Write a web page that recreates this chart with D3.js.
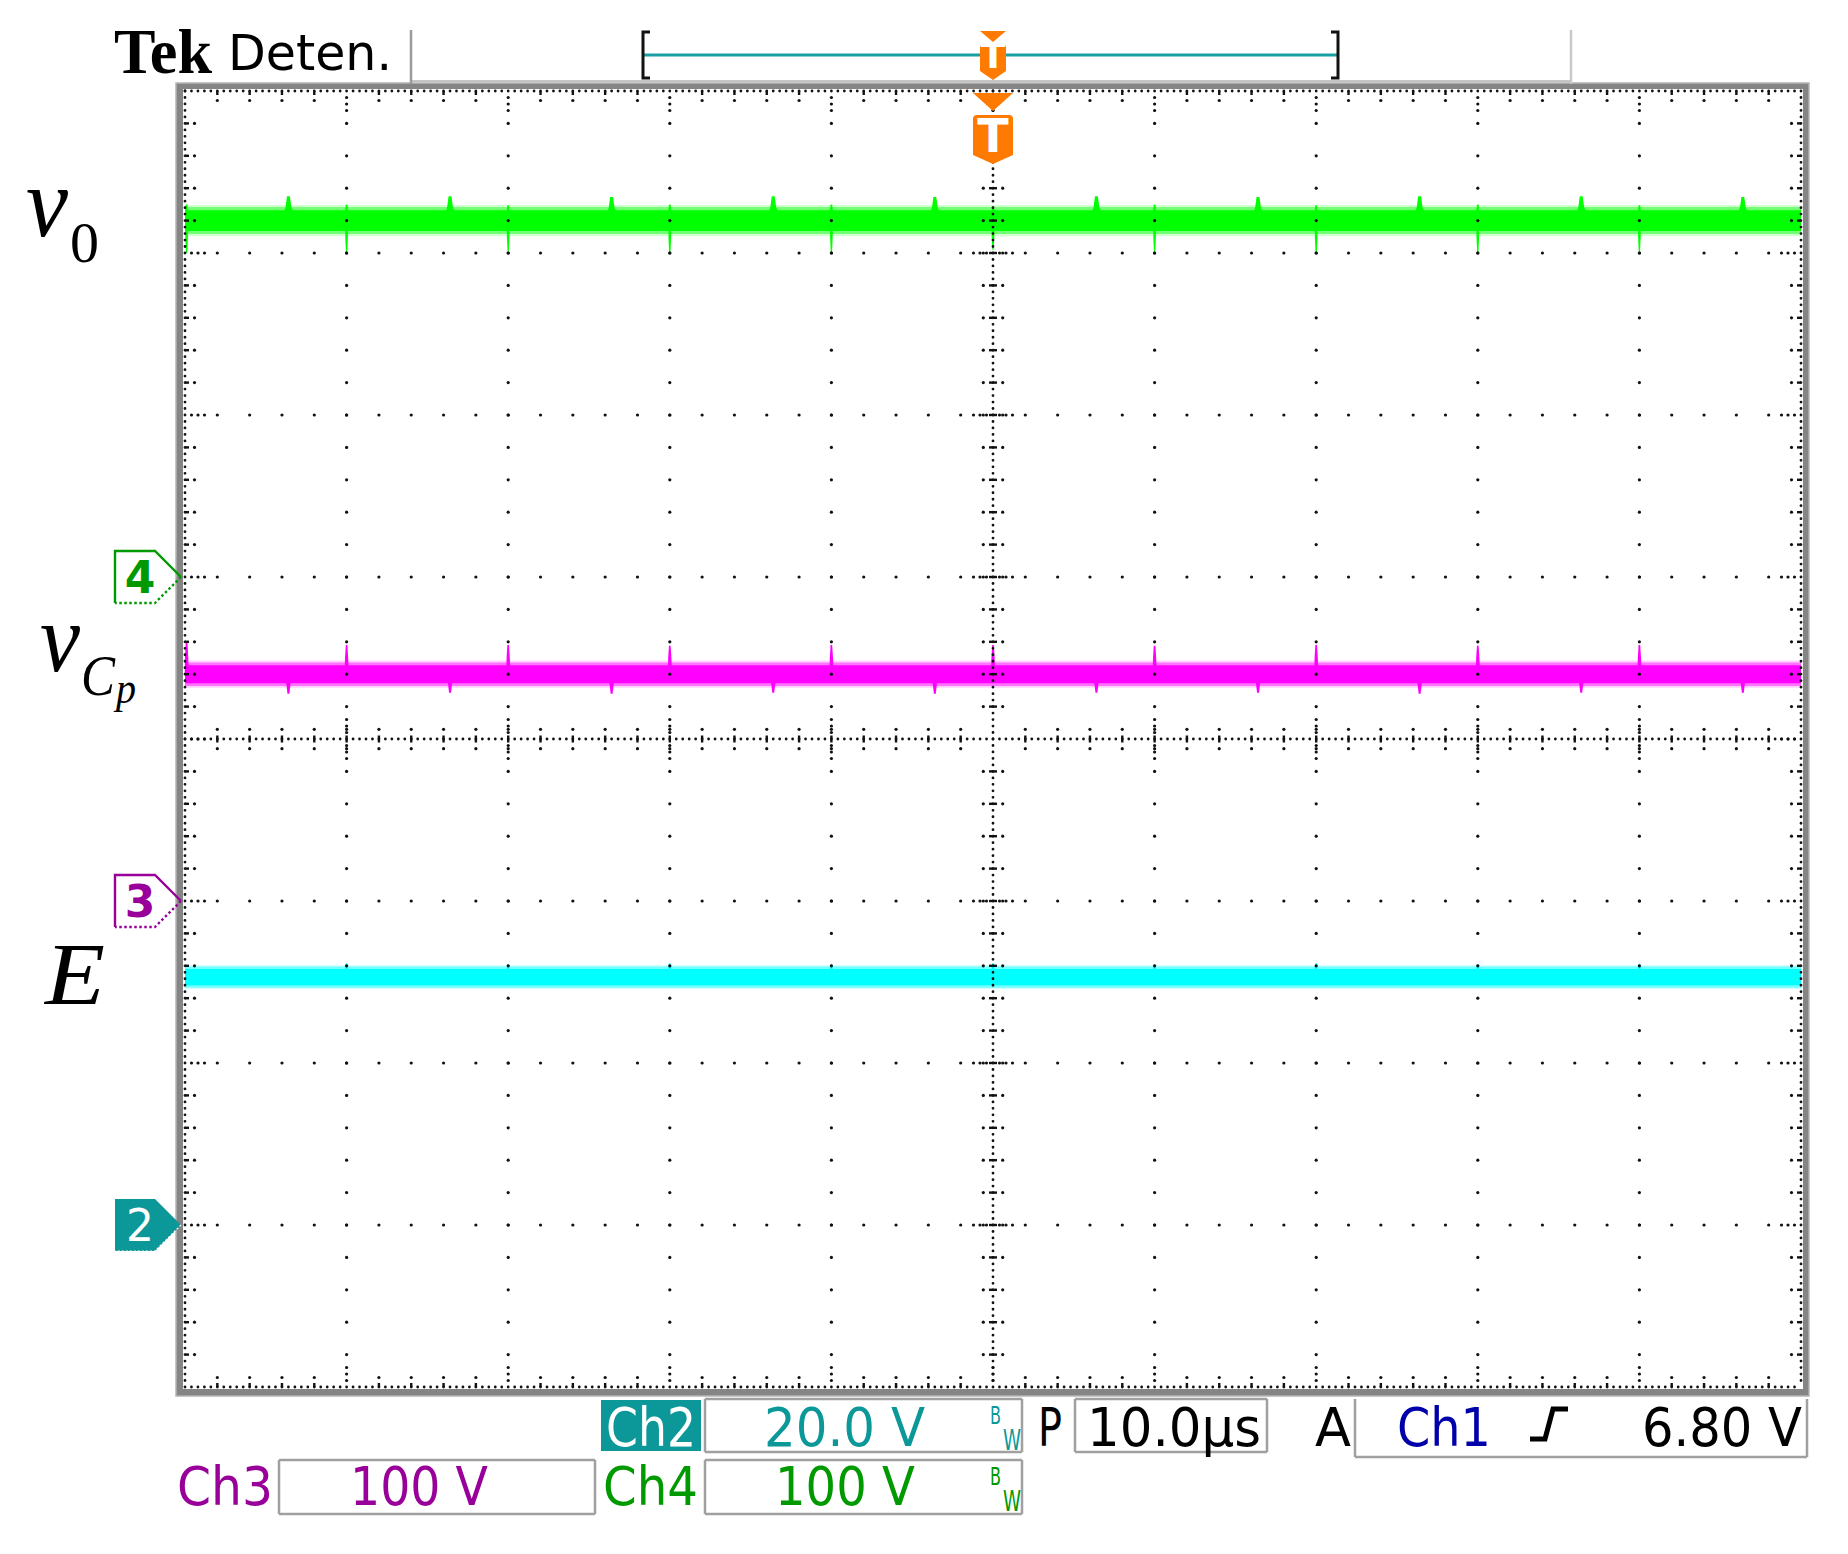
<!DOCTYPE html>
<html><head><meta charset="utf-8">
<script src="https://cdn.jsdelivr.net/npm/d3@7"></script>
<style>html,body{margin:0;padding:0;background:#fff;} svg{display:block;}</style>
</head><body>
<svg id="chart" width="1848" height="1554"></svg>
<script>
// ---------------- data ----------------
const timePerDivUs = 10;
const timeDomainUs = [-50, 50];           // 10 div x 10 µs, trigger at centre
const vertDivDomain = [-4, 4];            // 8 vertical divisions
const traceNames = ["E", "vCp", "v0"];
const traceChannels = ["2", "3", "4"];
const traceVoltsPerDiv = [20, 100, 100];
const traceOffsetDiv = [-3, -1, 1];       // ground marker positions (div from centre)
const traceLevelV = [30.6, 140, 220];     // mean levels
const traceNoiseV = [1.0, 5.6, 6.4];      // half width of the noise band
const traceColors = ["#00ffff", "#ff00ff", "#00ff00"];

// v0 (Ch4) spikes
const v0SpikeATimes = [-43.6, -33.6, -23.6, -13.6, -3.6, 6.4, 16.4, 26.4, 36.4, 46.4];
const v0SpikeAUpV   = [15, 15, 14.5, 15, 14.5, 15, 14.5, 15, 15, 14.5];
const v0SpikeBTimes = [-49.9, -40, -30, -20, -10, 0, 10, 20, 30, 40];
const v0SpikeBUpV   = [10, 10, 9.5, 10, 10, 9, 10, 9.5, 10, 9.5];
const v0SpikeBDownV = [20, 20, 19, 20, 19.5, 18, 19, 20, 19.5, 19];
// vCp (Ch3) spikes
const vCpSpikeBTimes = [-49.9, -40, -30, -20, -10, 0, 10, 20, 30, 40];
const vCpSpikeBUpV   = [20, 18, 18, 17.5, 18, 18, 17.5, 18, 17.5, 18];
const vCpSpikeATimes = [-43.6, -33.6, -23.6, -13.6, -3.6, 6.4, 16.4, 26.4, 36.4, 46.4];
const vCpSpikeADownV = [12, 11.5, 12, 11.5, 12, 11.5, 11.5, 12, 11.5, 11.5];
// E (Ch2) small bumps
const eSpikeTimes = [-40, -30, -20, -10, 0, 10, 20, 30, 40];
const eSpikeUpV   = [1.7, 1.6, 1.7, 1.6, 1.7, 1.6, 1.7, 1.6, 1.6];

// status text
const ch2Scale = "20.0 V";
const ch3Scale = "100 V";
const ch4Scale = "100 V";
const timeScaleText = "10.0µs";
const trigSource = "Ch1";
const trigLevel = "6.80 V";

// ---------------- layout ----------------
const X0 = 185, X1 = 1801, Y0 = 91, Y1 = 1387;
const svg = d3.select('#chart');
const x = d3.scaleLinear().domain(timeDomainUs).range([X0, X1]);
const yd = d3.scaleLinear().domain(vertDivDomain).range([Y1, Y0]);

// ---------- traces ----------
const gTr = svg.append('g');
function traceScale(i) {
  const vpd = traceVoltsPerDiv[i], off = traceOffsetDiv[i];
  return d3.scaleLinear().domain([(-4 - off) * vpd, (4 - off) * vpd]).range([Y1, Y0]);
}
const lineGen = (y) => d3.line().x(d => x(d[0])).y(d => y(d[1]));
function spikePts(t, level, amp, hl, hr, tipw) {
  return [[t - hl, level], [t - tipw * 2, level + amp * 0.55], [t - tipw, level + amp],
          [t + tipw, level + amp], [t + tipw * 2, level + amp * 0.55], [t + hr, level]];
}
traceNames.forEach((name, i) => {
  const y = traceScale(i);
  const L = traceLevelV[i], N = traceNoiseV[i], col = traceColors[i];
  [[1.5, 0.18], [1.3, 0.45]].forEach(([k, op]) => {
    const area = d3.area().x(d => x(d)).y0(() => y(L - N * k)).y1(() => y(L + N * k));
    gTr.append('path').attr('d', area(timeDomainUs)).attr('fill', col).attr('opacity', op);
  });
  const core = d3.area().x(d => x(d)).y0(() => y(L - N)).y1(() => y(L + N));
  gTr.append('path').attr('d', core(timeDomainUs)).attr('fill', col);
  const lg = lineGen(y);
  const draw = (pts) => gTr.append('path').attr('d', lg(pts) + 'Z').attr('fill', col);
  if (name === 'v0') {
    v0SpikeATimes.forEach((t, k) => draw(spikePts(t, L, v0SpikeAUpV[k], 0.45, 0.55, 0.09)));
    v0SpikeBTimes.forEach((t, k) => {
      draw(spikePts(t, L, v0SpikeBUpV[k], 0.06, 0.9, 0.05));
      draw(spikePts(t, L, -v0SpikeBDownV[k], 0.09, 0.09, 0.04));
    });
  } else if (name === 'vCp') {
    vCpSpikeBTimes.forEach((t, k) => draw(spikePts(t, L, vCpSpikeBUpV[k], 0.12, 0.14, 0.05)));
    vCpSpikeATimes.forEach((t, k) => draw(spikePts(t, L, -vCpSpikeADownV[k], 0.25, 0.25, 0.06)));
  } else {
    eSpikeTimes.forEach((t, k) => draw(spikePts(t, L, eSpikeUpV[k], 0.1, 0.3, 0.05)));
  }
});

// ---------- frame ----------
svg.append('path')
  .attr('d', `M176,83H1809V1396H176Z M183,89V1389H1803V89Z`)
  .attr('fill', '#858585').attr('fill-rule', 'evenodd');
svg.append('rect').attr('x', 176).attr('y', 83).attr('width', 1633).attr('height', 1313)
  .attr('fill', 'none').attr('stroke', '#b5b5b5').attr('stroke-width', 1.5);
svg.append('line').attr('x1', 411).attr('x2', 1571).attr('y1', 81).attr('y2', 81)
  .attr('stroke', '#c4c4c4').attr('stroke-width', 2);

// ---------- graticule ----------
const gG = svg.append('g').attr('fill', '#111');
const minorX = d3.range(0, 51).map(i => -50 + i * 2);
const minorY = d3.range(0, 41).map(i => -4 + i * 0.2);
const majorX = d3.range(1, 10).map(i => -50 + i * 10).filter(v => v !== 0);
const majorY = d3.range(1, 8).map(i => -4 + i).filter(v => v !== 0);
const isMajorX = v => Math.abs(v / 10 - Math.round(v / 10)) < 1e-6;
const isMajorY = v => Math.abs(v - Math.round(v)) < 1e-6;
const dot = (cx, cy, r = 1.6) => gG.append('circle').attr('cx', cx).attr('cy', cy).attr('r', r);
const dash = (x1, y1, x2, y2) => gG.append('line').attr('x1', x1).attr('y1', y1).attr('x2', x2).attr('y2', y2)
  .attr('stroke', '#111').attr('stroke-width', 2.4);

majorX.forEach(c => minorY.forEach(v => { if (Math.abs(v) < 3.99 && Math.abs(v) > 0.01) dot(x(c), yd(v)); }));
majorY.forEach(r => minorX.forEach(t => { if (Math.abs(t) < 49.9 && Math.abs(t) > 0.01) dot(x(t), yd(r)); }));

const px = (X1 - X0) / 250, py = (Y1 - Y0) / 200;
const dotted = (x1, y1, x2, y2, p) => gG.append('line').attr('x1', x1).attr('y1', y1).attr('x2', x2).attr('y2', y2)
  .attr('stroke', '#111').attr('stroke-width', 2.8).attr('stroke-linecap', 'round')
  .attr('stroke-dasharray', `0 ${p}`);
dotted(X0, Y0, X1, Y0, px); dotted(X0, Y1, X1, Y1, px);
dotted(X0, Y0, X0, Y1, py); dotted(X1, Y0, X1, Y1, py);
dotted(X0, yd(0), X1, yd(0), px); dotted(x(0), Y0, x(0), Y1, py);

minorX.forEach(t => {
  if (Math.abs(t) > 49.9) return;
  const cx = x(t);
  if (isMajorX(t)) { [6.5, 13, 19.5].forEach(o => { dot(cx, Y0 + o); dot(cx, Y1 - o); }); }
  else { dash(cx, Y0, cx, Y0 + 4); dot(cx, Y0 + 9.5); dash(cx, Y1, cx, Y1 - 4); dot(cx, Y1 - 9.5); }
  if (Math.abs(t) > 0.01) {
    dash(cx, yd(0) - 3.5, cx, yd(0) + 3.5); dot(cx, yd(0) - 9.7); dot(cx, yd(0) + 9.7);
    if (isMajorX(t)) [6.5, 13, 19.5].forEach(o => { dot(cx, yd(0) - o); dot(cx, yd(0) + o); });
  }
});
minorY.forEach(v => {
  if (Math.abs(v) > 3.99) return;
  const cy = yd(v);
  if (isMajorY(v)) { [6.5, 13, 19.5].forEach(o => { dot(X0 + o, cy); dot(X1 - o, cy); }); }
  else { dash(X0, cy, X0 + 4, cy); dot(X0 + 9.5, cy); dash(X1, cy, X1 - 4, cy); dot(X1 - 9.5, cy); }
  if (Math.abs(v) > 0.01) {
    dash(x(0) - 4, cy, x(0) + 4, cy); dot(x(0) - 9.7, cy); dot(x(0) + 9.7, cy);
    if (isMajorY(v)) [6.5, 13, 19.5].forEach(o => { dot(x(0) - o, cy); dot(x(0) + o, cy); });
  }
});

// ---------- trigger markers ----------
const orange = '#ff7a00';
const tx = x(0);
function trigMarker(triTop, triBot, boxTop, boxBot, halfW, fs) {
  const g = svg.append('g');
  g.append('path').attr('d', `M${tx - halfW},${triTop}H${tx + halfW}L${tx},${triBot}Z`).attr('fill', orange);
  const r = 4;
  g.append('path').attr('d',
    `M${tx - halfW},${boxTop + r}Q${tx - halfW},${boxTop} ${tx - halfW + r},${boxTop}H${tx + halfW - r}Q${tx + halfW},${boxTop} ${tx + halfW},${boxTop + r}` +
    `V${boxBot - 9}L${tx},${boxBot}L${tx - halfW},${boxBot - 9}Z`).attr('fill', orange);
  g.append('text').attr('x', tx).attr('y', boxBot - 12).attr('text-anchor', 'middle')
    .attr('font-family', 'DejaVu Sans').attr('font-weight', 'bold').attr('font-size', fs)
    .attr('fill', '#fff').text('T');
}
svg.append('line').attr('x1', 643).attr('x2', 1338).attr('y1', 55).attr('y2', 55)
  .attr('stroke', '#1a9ea3').attr('stroke-width', 3);
svg.append('path').attr('d', 'M650,32H643V78H650').attr('fill', 'none').attr('stroke', '#111').attr('stroke-width', 3);
svg.append('path').attr('d', 'M1331,32H1338V78H1331').attr('fill', 'none').attr('stroke', '#111').attr('stroke-width', 3);
trigMarker(31, 42, 44, 80, 13, 36);
trigMarker(93, 111, 115, 164, 20, 46);

// header
svg.append('line').attr('x1', 411).attr('x2', 411).attr('y1', 30).attr('y2', 84).attr('stroke', '#9a9a9a').attr('stroke-width', 2.5);
svg.append('line').attr('x1', 1571).attr('x2', 1571).attr('y1', 30).attr('y2', 84).attr('stroke', '#c8c8c8').attr('stroke-width', 2.5);
svg.append('text').attr('x', 114).attr('y', 73).attr('font-family', 'Liberation Serif').attr('font-weight', 'bold')
  .attr('font-size', 64).attr('textLength', 98).attr('lengthAdjust', 'spacingAndGlyphs').attr('fill', '#000').text('Tek');
svg.append('text').attr('x', 228).attr('y', 70).attr('font-family', 'DejaVu Sans')
  .attr('font-size', 49).attr('textLength', 164).attr('lengthAdjust', 'spacingAndGlyphs').attr('fill', '#000').text('Deten.');

// ---------- channel ground markers ----------
const chColors = { "2": "#0c9898", "3": "#990099", "4": "#009900" };
traceChannels.forEach((ch, i) => {
  const cy = yd(traceOffsetDiv[i]);
  const col = chColors[ch];
  const g = svg.append('g');
  const filled = ch === "2";
  if (filled) {
    g.append('path').attr('d', `M115,${cy - 26}H155L181,${cy}L155,${cy + 26}H115Z`).attr('fill', col);
    g.append('path').attr('d', `M181,${cy}L155,${cy + 26}H115`).attr('fill', 'none').attr('stroke', '#fff')
      .attr('stroke-width', 1.2).attr('stroke-dasharray', '2 2');
  } else {
    g.append('path').attr('d', `M115,${cy + 26}V${cy - 26}H155L181,${cy}`).attr('fill', 'none')
      .attr('stroke', col).attr('stroke-width', 2.4);
    g.append('path').attr('d', `M181,${cy}L155,${cy + 26}H115`).attr('fill', 'none')
      .attr('stroke', col).attr('stroke-width', 2.4).attr('stroke-dasharray', '2.5 2.5');
  }
  g.append('text').attr('x', 140).attr('y', cy + 16).attr('text-anchor', 'middle')
    .attr('font-family', 'DejaVu Sans').attr('font-weight', filled ? 'normal' : 'bold').attr('font-size', 44)
    .attr('fill', filled ? '#fff' : col).text(ch);
});

// ---------- math labels ----------
const serif = 'Liberation Serif';
function mtext(xp, yp, size, italic, str, len) {
  const t = svg.append('text').attr('x', xp).attr('y', yp).attr('font-family', serif).attr('font-size', size)
    .attr('font-style', italic ? 'italic' : 'normal').attr('fill', '#000').text(str);
  if (len) t.attr('textLength', len).attr('lengthAdjust', 'spacingAndGlyphs');
}
mtext(26, 236, 100, true, 'v', 42);
mtext(70, 262, 58, false, '0');
mtext(40, 671, 98, true, 'v', 40);
mtext(81, 695, 56, true, 'C', 34);
mtext(116, 703, 44, true, 'p', 20);
mtext(45, 1004, 88, true, 'E', 60);

// ---------- status bar ----------
const sans = 'DejaVu Sans';
function stext(xp, yp, w, size, col, str, weight) {
  svg.append('text').attr('x', xp).attr('y', yp).attr('font-family', sans).attr('font-size', size)
    .attr('font-weight', weight || 'normal')
    .attr('textLength', w).attr('lengthAdjust', 'spacingAndGlyphs').attr('fill', col).text(str);
}
function box(x0, y0, x1, y1, sides) {
  const s = sides || 'tlbr';
  const p = [];
  if (s.includes('t')) p.push(`M${x0},${y0}H${x1}`);
  if (s.includes('l')) p.push(`M${x0},${y0}V${y1}`);
  if (s.includes('b')) p.push(`M${x0},${y1}H${x1}`);
  if (s.includes('r')) p.push(`M${x1},${y0}V${y1}`);
  svg.append('path').attr('d', p.join('')).attr('fill', 'none').attr('stroke', '#a0a0a0').attr('stroke-width', 2.5);
}
// row 1
svg.append('rect').attr('x', 601).attr('y', 1400).attr('width', 100).attr('height', 51).attr('fill', chColors["2"]);
stext(606, 1446, 90, 54, '#fff', 'Ch2');
box(705, 1399, 1022, 1452);
stext(764, 1446, 161, 54, chColors["2"], ch2Scale);
stext(990, 1424, 11, 24, chColors["2"], 'B');
stext(1003, 1450, 18, 28, chColors["2"], 'W');
stext(1038, 1446, 24, 54, '#000', 'P');
box(1075, 1399, 1267, 1452);
stext(1087, 1446, 174, 54, '#000', timeScaleText);
stext(1315, 1446, 36, 54, '#000', 'A');
box(1355, 1399, 1807, 1457, 'lbr');
stext(1397, 1446, 94, 54, '#0000aa', trigSource);
svg.append('path').attr('d', 'M1530,1439H1545L1553,1409H1568').attr('fill', 'none')
  .attr('stroke', '#000').attr('stroke-width', 5);
stext(1642, 1446, 160, 54, '#000', trigLevel);
// row 2
stext(177, 1505, 96, 54, chColors["3"], 'Ch3');
box(279, 1460, 595, 1514);
stext(350, 1505, 138, 54, chColors["3"], ch3Scale);
stext(603, 1505, 95, 54, chColors["4"], 'Ch4');
box(705, 1460, 1022, 1514);
stext(775, 1505, 140, 54, chColors["4"], ch4Scale);
stext(990, 1485, 11, 24, chColors["4"], 'B');
stext(1003, 1511, 18, 28, chColors["4"], 'W');
</script>
</body></html>
